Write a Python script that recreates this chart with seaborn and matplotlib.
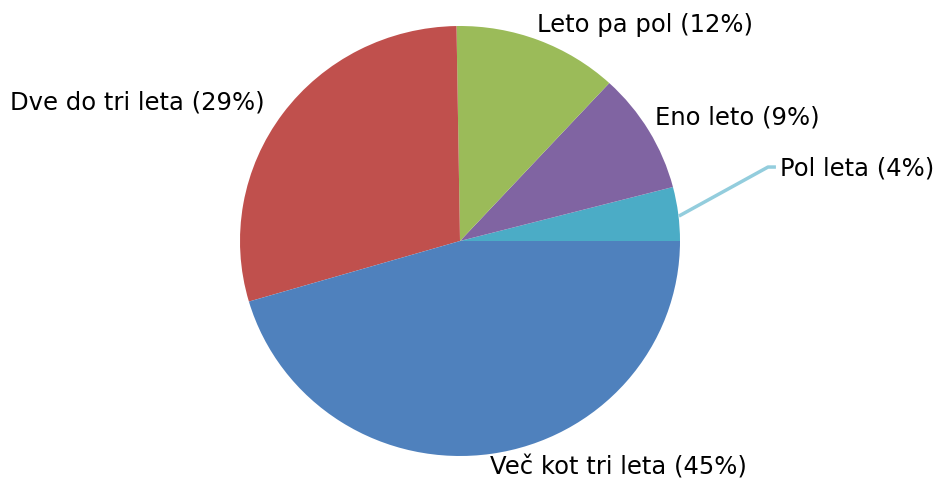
import matplotlib
matplotlib.use("Agg")
import matplotlib.pyplot as plt
import seaborn as sns

# ── Data ──────────────────────────────────────────────────────────────────────
categories = ["Pol leta", "Eno leto", "Leto pa pol", "Dve do tri leta", "Več kot tri leta"]
shares     = [4, 9, 12, 29, 45]
colors     = ["#4BACC6", "#8064A2", "#9BBB59", "#C0504D", "#4F81BD"]

# label anchor (data units, pie radius = 1)
label_pos  = [(1.455, 0.344), (0.886, 0.577), (0.35, 1.009), (-2.045, 0.647), (0.136, -1.047)]

sns.set_theme(style="white")
plt.rcParams["font.family"] = ["DejaVu Sans"]

fig = plt.figure(figsize=(9.44, 4.81), dpi=100)
ax = fig.add_axes([0, 0, 1, 1])

ax.pie(shares, colors=colors, startangle=0, counterclock=True,
       wedgeprops=dict(linewidth=0))

for name, val, (x, y) in zip(categories, shares, label_pos):
    ax.text(x, y, f"{name} ({val}%)", ha="left", va="center",
            fontsize=17.5, color="black")

# leader line for the smallest slice
ax.plot([0.995, 1.40, 1.436], [0.116, 0.344, 0.344],
        color="#93CDDD", lw=2.5, solid_capstyle="butt")

ax.set_aspect("auto")
ax.set_xlim(-460 / 220, (944 - 460) / 220)
ax.set_ylim(-239 / 215, 242 / 215)
ax.axis("off")

fig.savefig("out.png", dpi=100)
